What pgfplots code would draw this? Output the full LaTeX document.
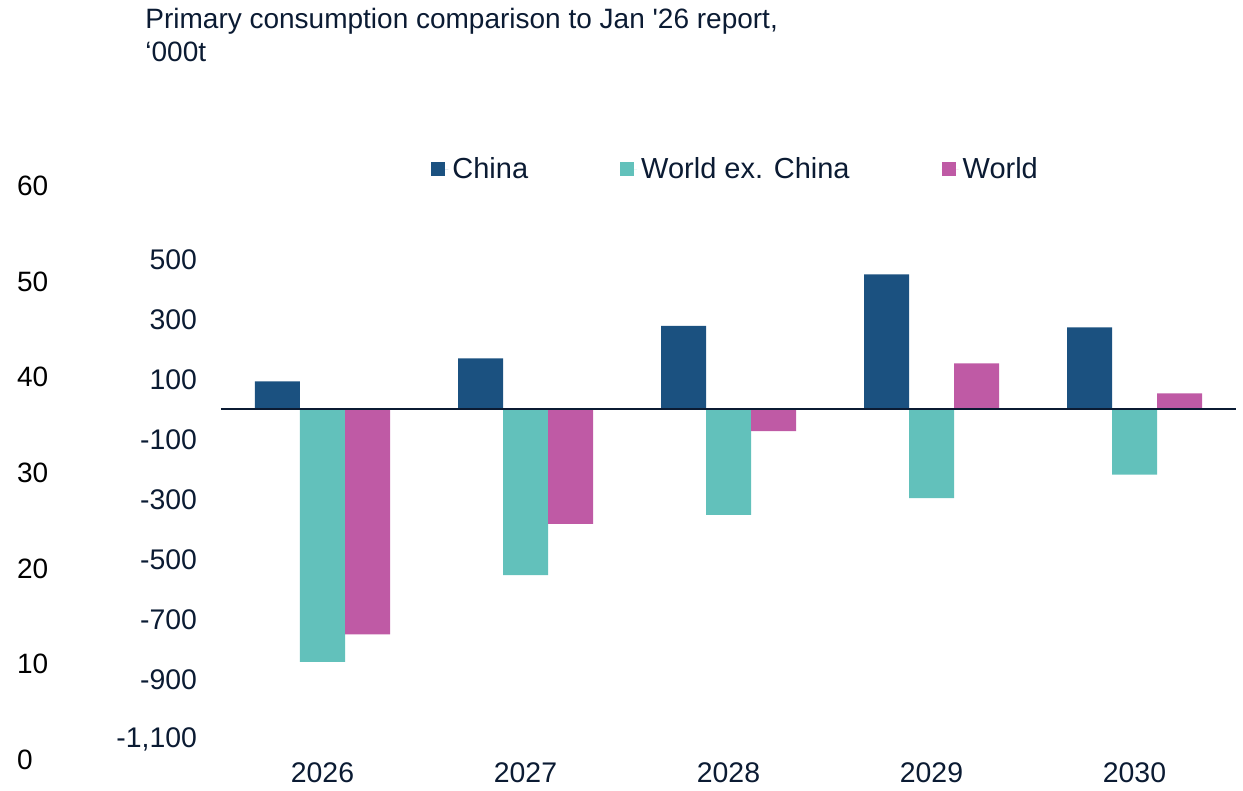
\documentclass[border=0pt]{standalone}
\usepackage{fontspec}
\setmainfont{Liberation Sans}
\usepackage{pgfplots}
\pgfplotsset{compat=1.18}
\definecolor{cChina}{HTML}{1B5180}
\definecolor{cWex}{HTML}{62C1BB}
\definecolor{cWorld}{HTML}{BF5AA5}
\definecolor{txt}{HTML}{0B1B33}
\begin{document}
\begin{tikzpicture}
\useasboundingbox (0,0) rectangle (621.5pt,-395.5pt);
\node[anchor=north west, align=left, text=txt, inner sep=0pt, font=\fontsize{14}{16.5}\selectfont] at (72.5pt,-4pt) {Primary consumption comparison to Jan \textquotesingle26 report,\\‘000t};
% spurious secondary scale 0--60
\begin{axis}[
  at={(5pt,-380pt)}, anchor=south west, scale only axis,
  width=5pt, height=287pt,
  xmin=0, xmax=1, ymin=0, ymax=60,
  hide x axis, axis line style={draw=none}, tick style={draw=none},
  ytick={0,10,20,30,40,50,60},
  yticklabels={0,10,20,30,40,50,60},
  yticklabel style={anchor=west, text=black, font=\fontsize{14}{16}\selectfont},
]
\addplot[draw=none] coordinates {(0,0)};
\end{axis}
\begin{axis}[
  at={(110.5pt,-369.65pt)}, anchor=south west, scale only axis,
  width=507.5pt, height=240pt,
  xmin=-0.5, xmax=4.5, ymin=-1100, ymax=500,
  ybar=0pt, bar width=22.5pt,
  axis line style={draw=none}, tick style={draw=none},
  xtick={0,1,2,3,4}, xticklabels={2026,2027,2028,2029,2030},
  ytick={-1100,-900,-700,-500,-300,-100,100,300,500},
  yticklabels={{-1,100},{-900},{-700},{-500},{-300},{-100},{100},{300},{500}},
  yticklabel style={text=txt, font=\fontsize{14.2}{16}\selectfont, xshift=-8.5pt},
  xticklabel style={text=txt, font=\fontsize{14.2}{16}\selectfont, yshift=-4pt},
  legend columns=3,
  legend style={draw=none, fill=none, at={(0.201,1.188)}, anchor=west,
    font=\fontsize{14.5}{16}\selectfont, text=txt,
    /tikz/every even column/.append style={column sep=44pt}},
  legend image code/.code={\fill[#1] (0pt,-3.5pt) rectangle (7pt,3.5pt); \path (0pt,0pt) -- (8.5pt,0pt);},
]
\addplot[fill=cChina, draw=none] coordinates {(0,93) (1,170) (2,278) (3,450) (4,273)};
\addplot[fill=cWex, draw=none] coordinates {(0,-842) (1,-553) (2,-352) (3,-296) (4,-218)};
\addplot[fill=cWorld, draw=none] coordinates {(0,-750) (1,-382) (2,-73) (3,153) (4,53)};
\legend{China,World ex. China,World}
\draw[txt, line width=1pt] (axis cs:-0.5,0) -- (axis cs:4.5,0);
\end{axis}
\end{tikzpicture}
\end{document}
